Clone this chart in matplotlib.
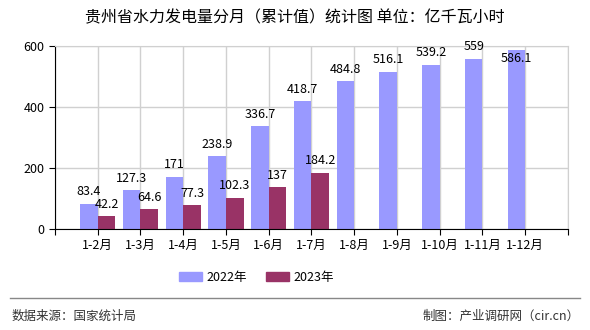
import matplotlib
matplotlib.use('Agg')
import matplotlib.pyplot as plt
from matplotlib.patches import Patch
import numpy as np

plt.rcParams['font.family'] = ['Noto Sans CJK SC', 'DejaVu Sans']

# data
categories = ['1-2月', '1-3月', '1-4月', '1-5月', '1-6月', '1-7月',
              '1-8月', '1-9月', '1-10月', '1-11月', '1-12月']
values_2022 = [83.4, 127.3, 171, 238.9, 336.7, 418.7, 484.8, 516.1, 539.2, 559, 586.1]
values_2023 = [42.2, 64.6, 77.3, 102.3, 137, 184.2]
labels_2022 = ['83.4', '127.3', '171', '238.9', '336.7', '418.7',
               '484.8', '516.1', '539.2', '559', '586.1']
labels_2023 = ['42.2', '64.6', '77.3', '102.3', '137', '184.2']
series_names = ['2022年', '2023年']
colors = ['#9999FF', '#993366']

fig = plt.figure(figsize=(5.9, 3.3), dpi=100)
ax = fig.add_axes([0.0932, 0.306, 0.8695, 0.5546])

x = np.arange(len(categories))
w = 0.41
x23 = x[:len(values_2023)]
ax.bar(x - w / 2, values_2022, width=w, color=colors[0], zorder=2)
ax.bar(x23 + w / 2, values_2023, width=w, color=colors[1], zorder=2)

for xi, v, t in zip(x, values_2022, labels_2022):
    if v > 570:
        # no room above, label sits on the bar top
        ax.annotate(t, (xi - w / 2, v), xytext=(0, -6), textcoords='offset points',
                    ha='center', va='center', fontsize=9, zorder=3)
    else:
        ax.annotate(t, (xi - w / 2, v), xytext=(0, 4), textcoords='offset points',
                    ha='center', va='bottom', fontsize=9, zorder=3, annotation_clip=False)
for xi, v, t in zip(x23, values_2023, labels_2023):
    ax.annotate(t, (xi + w / 2, v), xytext=(0, 4), textcoords='offset points',
                ha='center', va='bottom', fontsize=9, zorder=3)

ax.set_xlim(-1, len(categories))
ax.set_ylim(0, 600)
ax.set_yticks([0, 200, 400, 600])
ax.set_xticks(np.arange(-1, len(categories) + 1))
ax.set_xticklabels([''] + categories + [''])
ax.tick_params(axis='both', labelsize=9, direction='out', length=4, color='black')
ax.grid(True, color='#D0D0D0', linewidth=1, zorder=0)
ax.set_axisbelow(True)
for s in ['top', 'right']:
    ax.spines[s].set_color('#D0D0D0')
for s in ['left', 'bottom']:
    ax.spines[s].set_color('black')

handles = [Patch(color=c) for c in colors]
fig.legend(handles, series_names, loc='center', bbox_to_anchor=(0.435, 0.16), ncol=2,
           frameon=False, fontsize=9, handlelength=1.8, handleheight=0.8,
           columnspacing=1.5, handletextpad=0.4)

fig.text(0.5, 0.945, '贵州省水力发电量分月（累计值）统计图 单位：亿千瓦小时',
         ha='center', va='center', fontsize=11.5)
fig.add_artist(plt.Line2D([0.017, 0.983], [0.097, 0.097], color='#888888', linewidth=1))
fig.text(0.02, 0.042, '数据来源：国家统计局', ha='left', va='center', fontsize=9, color='#333333')
fig.text(0.983, 0.042, '制图：产业调研网（cir.cn）', ha='right', va='center', fontsize=9, color='#333333')

fig.savefig('out.png', dpi=100)
